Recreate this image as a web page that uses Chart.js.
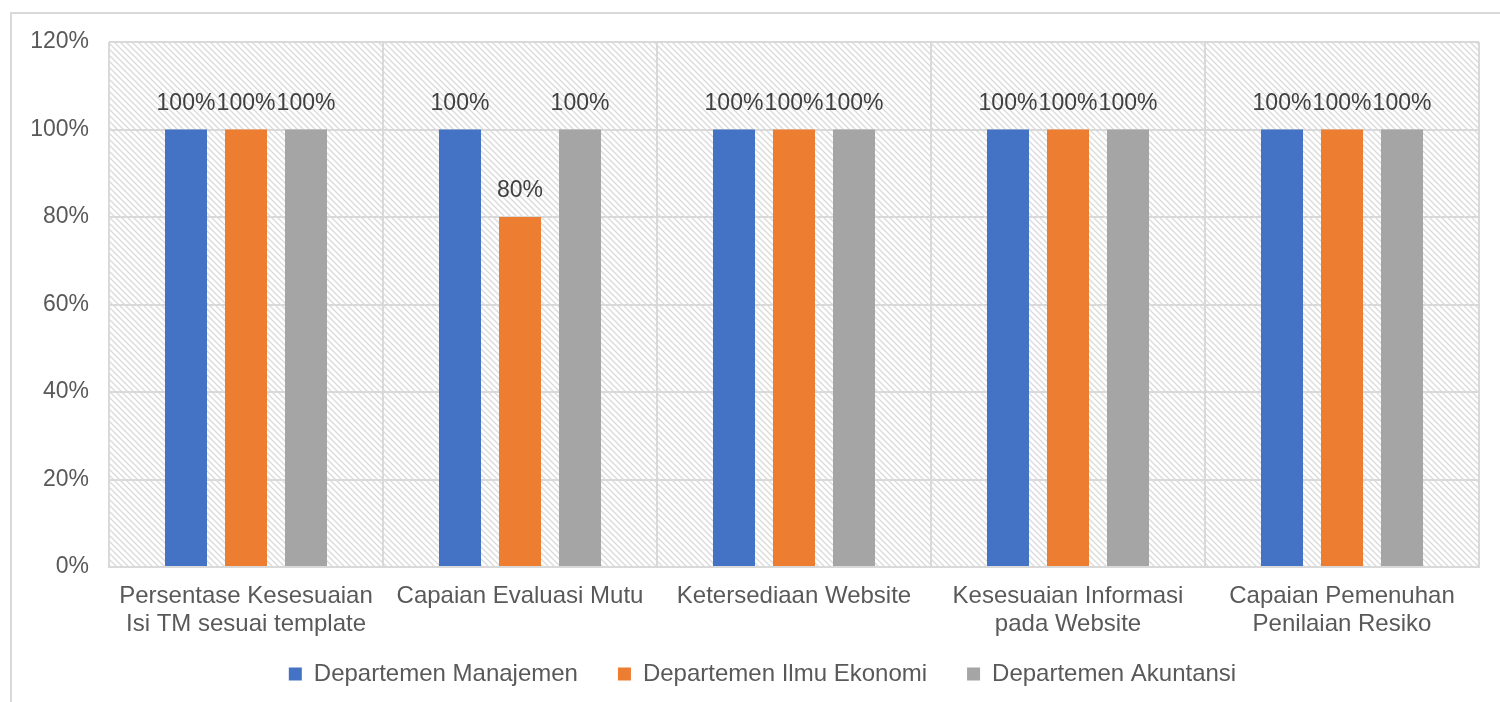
<!DOCTYPE html>
<html>
<head>
<meta charset="utf-8">
<script src="https://cdn.jsdelivr.net/npm/chart.js@4/dist/chart.umd.min.js"></script>
<style>
    body { margin: 0; background: #fff; overflow: hidden; }
    #frame { position: absolute; left: 10px; top: 12px; width: 1600px; height: 800px; border: 2px solid #d9d9d9; }
    #wrap { position: absolute; left: 0; top: 0; width: 1500px; height: 702px; }
</style>
</head>
<body>
<div id="frame"></div>
<div id="wrap"><canvas id="myChart"></canvas></div>
<script>
const categories = [
    ['Persentase Kesesuaian', 'Isi TM sesuai template'],
    'Capaian Evaluasi Mutu',
    'Ketersediaan Website',
    ['Kesesuaian Informasi', 'pada Website'],
    ['Capaian Pemenuhan', 'Penilaian Resiko']
];
const manajemen = [100, 100, 100, 100, 100];
const ilmuEkonomi = [100, 80, 100, 100, 100];
const akuntansi = [100, 100, 100, 100, 100];
const yTicks = [0, 20, 40, 60, 80, 100, 120];

// pola garis miring untuk latar area plot
function makeHatch() {
    const c = document.createElement('canvas');
    c.width = 6; c.height = 6;
    const g = c.getContext('2d');
    g.fillStyle = '#ffffff';
    g.fillRect(0, 0, 6, 6);
    g.strokeStyle = '#dadada';
    g.lineWidth = 1.3;
    g.beginPath();
    g.moveTo(-2, -2); g.lineTo(8, 8);
    g.moveTo(-2, 4); g.lineTo(2, 8);
    g.moveTo(4, -2); g.lineTo(8, 2);
    g.stroke();
    return g.createPattern(c, 'repeat');
}

const hatchBg = {
    id: 'hatchBg',
    beforeDraw(chart) {
        const a = chart.chartArea, ctx = chart.ctx;
        ctx.save();
        ctx.fillStyle = makeHatch();
        ctx.fillRect(a.left, a.top, a.right - a.left, a.bottom - a.top);
        ctx.restore();
    }
};

const barLabels = {
    id: 'barLabels',
    afterDatasetsDraw(chart) {
        const ctx = chart.ctx;
        ctx.save();
        ctx.font = '23px "Liberation Sans", Arial, sans-serif';
        ctx.fillStyle = '#404040';
        ctx.textAlign = 'center';
        ctx.textBaseline = 'middle';
        chart.data.datasets.forEach((ds, i) => {
            chart.getDatasetMeta(i).data.forEach((bar, j) => {
                ctx.fillText(ds.data[j] + '%', bar.x, bar.y - 26);
            });
        });
        ctx.restore();
    }
};

Chart.defaults.font.family = '"Liberation Sans", Arial, sans-serif';
Chart.defaults.font.size = 23;
Chart.defaults.color = '#595959';

new Chart(document.getElementById('myChart'), {
    type: 'bar',
    data: {
        labels: categories,
        datasets: [{
            label: 'Departemen Manajemen',
            data: manajemen,
            backgroundColor: '#4472c4'
        }, {
            label: 'Departemen Ilmu Ekonomi',
            data: ilmuEkonomi,
            backgroundColor: '#ed7d31'
        }, {
            label: 'Departemen Akuntansi',
            data: akuntansi,
            backgroundColor: '#a5a5a5'
        }]
    },
    options: {
        responsive: true,
        maintainAspectRatio: false,
        animation: false,
        layout: { padding: { top: 42, right: 21, left: 46, bottom: 6 } },
        datasets: { bar: { categoryPercentage: 0.657, barPercentage: 0.7 } },
        plugins: {
            legend: {
                position: 'bottom',
                labels: { boxWidth: 13, boxHeight: 13, padding: 40, color: '#595959', font: { size: 24 } }
            },
            tooltip: { enabled: false }
        },
        scales: {
            x: {
                grid: { color: '#d9d9d9', lineWidth: 2, drawTicks: false },
                border: { color: '#d9d9d9', width: 2 },
                ticks: { padding: 15, maxRotation: 0, autoSkip: false, font: { size: 24, lineHeight: 1.17 } },
                afterFit(scale) {
                    scale.height = 55;
                    // label dua baris boleh keluar dari kotak sumbu
                    scale._computeLabelArea = () => undefined;
                }
            },
            y: {
                min: 0,
                max: 120,
                afterBuildTicks(scale) { scale.ticks = yTicks.map(v => ({ value: v })); },
                grid: { color: '#d9d9d9', lineWidth: 2, drawTicks: false },
                border: { display: false },
                ticks: { padding: 20, callback: v => v + '%' },
                afterFit(scale) {
                    scale.width = 63;
                    scale._computeLabelArea = () => undefined;
                }
            }
        }
    },
    plugins: [hatchBg, barLabels]
});
</script>
</body>
</html>
